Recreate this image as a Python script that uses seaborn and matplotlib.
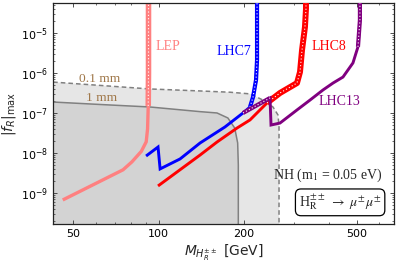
import numpy as np
import pandas as pd
import matplotlib
matplotlib.use("Agg")
import matplotlib.pyplot as plt
import seaborn as sns
from matplotlib.ticker import FixedLocator, NullFormatter, FixedFormatter, LogLocator

# ---- data ----
lep_m = [46, 75, 80.6, 87, 90.5, 91.5, 92.0, 92.2, 92.2]
lep_f = [6.7e-10, 3.8e-9, 6e-9, 1.1e-8, 1.9e-8, 4e-8, 1.5e-7, 1e-6, 1e-4]

lhc7_m = [90.4, 99.6, 101.3, 119.1, 140.1, 171.4, 198.4, 210, 215.2, 220.5, 222.3, 222.3]
lhc7_f = [8.4e-9, 1.41e-8, 4e-9, 7.1e-9, 1.78e-8, 4.47e-8, 1e-7, 1.41e-7, 2.5e-7, 6.7e-7, 2.1e-6, 1e-4]

lhc8_m = [99.6, 140.1, 160.7, 189, 210, 241, 267.8, 307.4, 315, 320.2, 327.9, 330.6, 330.6]
lhc8_f = [1.5e-9, 8.9e-9, 1.88e-8, 4.2e-8, 6.7e-8, 1.78e-7, 3.16e-7, 5.6e-7, 1.06e-6, 3.75e-6, 1.41e-5, 4e-5, 1e-4]

lhc13_m = [198.4, 247, 249, 267.8, 307.4, 341.6, 379.6, 411.7, 446.3, 483.9, 504, 512, 512]
lhc13_f = [1e-7, 2.37e-7, 5e-8, 5.6e-8, 1.19e-7, 2.1e-7, 3.76e-7, 5.6e-7, 7.9e-7, 1.78e-6, 4.5e-6, 2.1e-5, 1e-4]

# decay-length contours
mm01_m = [40, 93.4, 140, 178.6, 210, 233.3, 253, 263.5, 265.7, 265.7]
mm01_f = [6.1e-7, 3.98e-7, 3.55e-7, 3.3e-7, 3.0e-7, 2.1e-7, 1.41e-7, 8.9e-8, 4.5e-8, 1e-11]

mm1_m = [40, 62.2, 93.4, 140, 160.7, 175.5, 185.5, 190, 191, 191]
mm1_f = [1.92e-7, 1.63e-7, 1.41e-7, 1.08e-7, 1.0e-7, 7.5e-8, 4.2e-8, 1.78e-8, 5e-9, 1e-11]

x_ticks = [50, 100, 200, 500]
x_ticklabels = ["50", "100", "200", "500"]
y_ticks = [1e-9, 1e-8, 1e-7, 1e-6, 1e-5]

# ---- style ----
sns.set_theme(style="ticks")
plt.rcParams['font.family'] = ['DejaVu Sans']
plt.rcParams['mathtext.fontset'] = 'dejavusans'

fig = plt.figure(figsize=(3.99, 2.71), dpi=100)
ax = fig.add_axes([53/399, 1-224/271, (394-53)/399, (224-3)/271])
ax.set_xscale('log')
ax.set_yscale('log')
ax.set_xlim(42.5, 675)
ax.set_ylim(1.68e-10, 5.6e-5)

# shaded regions
ax.fill(mm01_m + [40], mm01_f + [1e-11], color='#e6e6e6', lw=0, zorder=0)
ax.fill(mm1_m + [40], mm1_f + [1e-11], color='#d3d3d3', lw=0, zorder=0.5)
ax.plot(mm01_m, mm01_f, color='#808080', lw=1.1, ls=(0, (3, 2)), zorder=1)
ax.plot(mm1_m, mm1_f, color='#808080', lw=1.1, zorder=1)

def curve(m, f, color, lw, band_mask, band_lw, zorder):
    df = pd.DataFrame({'m': m, 'f': f})
    sns.lineplot(data=df, x='m', y='f', sort=False, estimator=None, color=color,
                 lw=lw, ax=ax, zorder=zorder, solid_joinstyle='miter', solid_capstyle='butt')
    for idx in band_mask:
        sub = df.iloc[idx]
        ax.plot(sub['m'], sub['f'], color=color, lw=band_lw, zorder=zorder + 0.1,
                solid_capstyle='butt')
        ax.plot(sub['m'], sub['f'], color='white', lw=0.8, ls=(0, (1, 2)), zorder=zorder + 0.2)

curve(lep_m, lep_f, '#ff8080', 2.4, [slice(6, 9)], 4.0, 2)
curve(lhc7_m, lhc7_f, '#0000ff', 2.1, [slice(7, 12)], 3.0, 3)
curve(lhc8_m, lhc8_f, '#ff0000', 2.1, [slice(5, 13)], 4.3, 4)
curve(lhc13_m, lhc13_f, '#800080', 2.1, [slice(0, 2), slice(10, 13)], 3.0, 5)

# axis ticks
ax.xaxis.set_major_locator(FixedLocator(x_ticks))
ax.xaxis.set_major_formatter(FixedFormatter(x_ticklabels))
ax.xaxis.set_minor_locator(LogLocator(base=10, subs=np.arange(2, 10)))
ax.xaxis.set_minor_formatter(NullFormatter())
ax.yaxis.set_major_locator(FixedLocator(y_ticks))
ax.yaxis.set_minor_locator(LogLocator(base=10, subs=np.arange(2, 10)))
ax.yaxis.set_minor_formatter(NullFormatter())
ax.tick_params(which='both', direction='in', top=True, right=True, labelsize=8, colors='#333333',
               labelcolor='black')
ax.tick_params(which='major', length=3, width=0.6)
ax.tick_params(which='minor', length=1.6, width=0.5)
for s in ax.spines.values():
    s.set_color('#222222')
    s.set_linewidth(0.9)
ax.set_xlabel(r"$M_{H_R^{\pm\pm}}$ [GeV]", fontsize=10, labelpad=3)
ax.set_ylabel(r"$|f_R|_{\mathrm{max}}$", fontsize=10, labelpad=2)

serif = ['Liberation Serif', 'DejaVu Serif']
fs = 10
ax.text(98, 4.47e-6, "LEP", color='#ff8080', fontsize=fs, family=serif, ha='left', va='center')
ax.text(160, 3.35e-6, "LHC7", color='#0000ff', fontsize=fs, family=serif, ha='left', va='center')
ax.text(346, 4.47e-6, "LHC8", color='#ff0000', fontsize=fs, family=serif, ha='left', va='center')
ax.text(365, 1.88e-7, "LHC13", color='#800080', fontsize=fs, family=serif, ha='left', va='center')
ax.text(52.5, 7.1e-7, "0.1 mm", color='#a0784a', fontsize=9.7, family=serif, ha='left', va='center')
ax.text(55.5, 2.37e-7, "1 mm", color='#a0784a', fontsize=9.7, family=serif, ha='left', va='center')
ax.text(0.965, 0.218, r"NH (m$_1$ = 0.05 eV)", transform=ax.transAxes, fontsize=fs,
        family=serif, math_fontfamily='stix', ha='right', va='center')
ax.text(0.842, 0.098, r"H$_\mathrm{R}^{\pm\pm}$ $\rightarrow$ $\mu^{\pm}\mu^{\pm}$", transform=ax.transAxes,
        fontsize=fs, family=serif, math_fontfamily='stix', ha='center', va='center',
        bbox=dict(boxstyle='round,pad=0.25,rounding_size=0.4', fc='white', ec='black', lw=0.9))

fig.savefig("out.png", dpi=100)
